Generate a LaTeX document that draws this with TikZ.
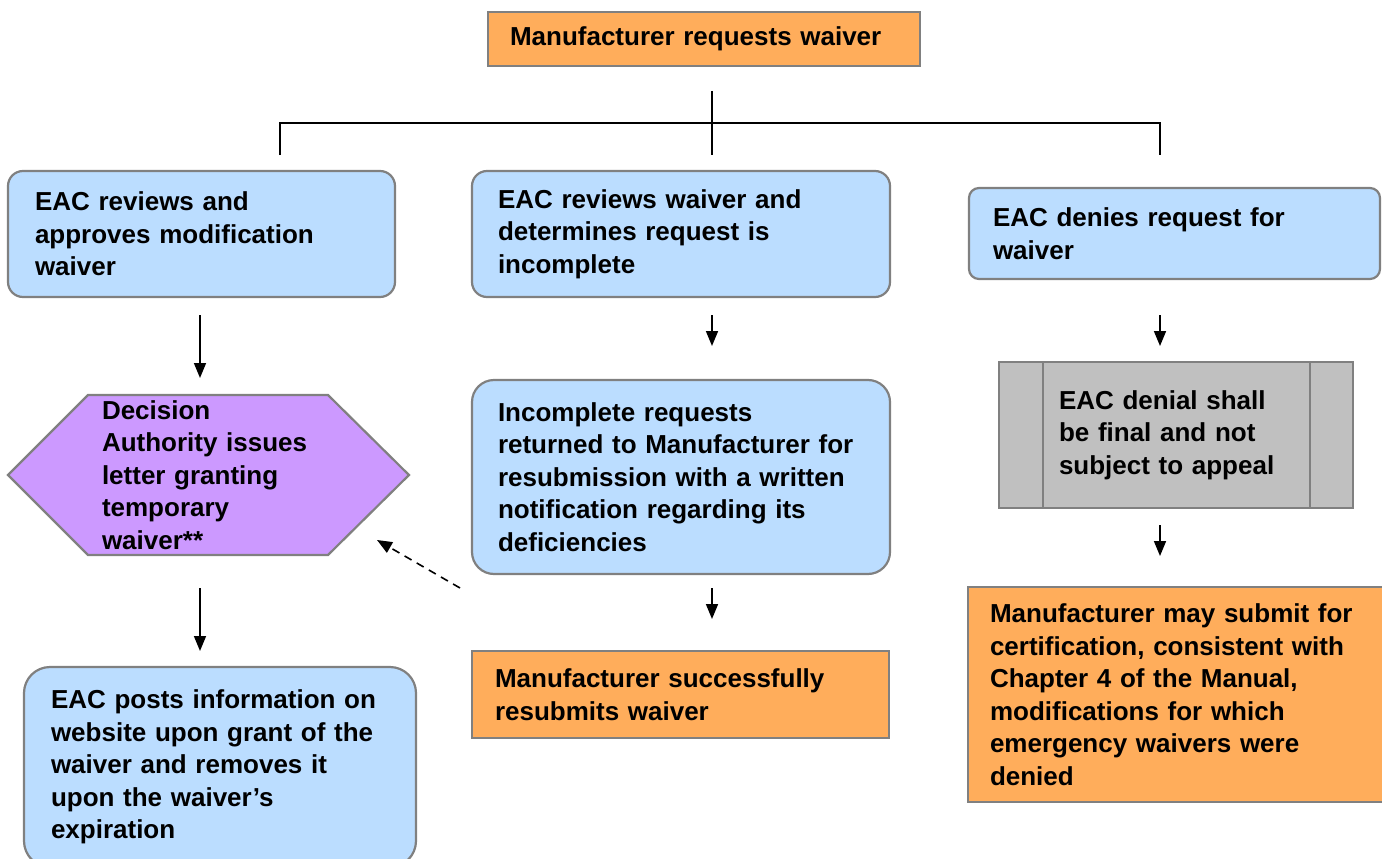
\documentclass[tikz,border=0pt]{standalone}
\usepackage{fontspec}
\setmainfont{Liberation Sans}
\usetikzlibrary{arrows.meta,backgrounds}
\definecolor{orangebox}{HTML}{FFAD5B}
\definecolor{bluebox}{HTML}{BBDDFF}
\definecolor{purplebox}{HTML}{CC99FF}
\definecolor{graybox}{HTML}{C0C0C0}
\definecolor{bordercol}{HTML}{808080}
\tikzset{
  every node/.style={font=\bfseries\fontsize{26}{32.5}\selectfont, text=black},
  box/.style={draw=bordercol, line width=2.2pt, align=left, anchor=north west,
    inner ysep=0pt, outer sep=0pt},
  bluestyle/.style={box, fill=bluebox},
  orangestyle/.style={box, fill=orangebox},
  conn/.style={line width=1.6pt, draw=black},
  arr/.style={conn, -{Triangle[length=15pt,width=12pt]}},
  dasharr/.style={arr, dash pattern=on 8pt off 6pt}
}
\begin{document}
\begin{tikzpicture}[x=1pt,y=-1pt]
\useasboundingbox (0,0) rectangle (1382,859);
\clip (0,0) rectangle (1382,859);

% top
\node[orangestyle, minimum width=432, minimum height=54, text width=388, inner xsep=22]
  (T) at (488,12) {Manufacturer requests waiver};

% row 1
\node[bluestyle, rounded corners=15pt, minimum width=387, minimum height=126, text width=333, inner xsep=27]
  (A) at (8,171) {EAC reviews and\\approves modification\\waiver};
\node[bluestyle, rounded corners=15pt, minimum width=418, minimum height=126, text width=366, inner xsep=26]
  (B) at (472,171) {EAC reviews waiver and\\determines request is\\incomplete};
\node[bluestyle, rounded corners=10pt, minimum width=411, minimum height=91, text width=363, inner xsep=24]
  (C) at (969,188) {EAC denies request for\\waiver};

% row 2
\node[box, draw=none, minimum width=401, minimum height=160, text width=213, inner xsep=94]
  (H) at (8,395) {Decision\\Authority issues\\letter granting\\temporary\\waiver**};
\begin{scope}[on background layer]
\filldraw[fill=purplebox, draw=bordercol, line width=2.2pt]
  (H.west) -- ([shift={(80,0)}]H.north west) -- ([shift={(-81,0)}]H.north east)
  -- (H.east) -- ([shift={(-81,0)}]H.south east) -- ([shift={(80,0)}]H.south west) -- cycle;
\end{scope}

\node[bluestyle, rounded corners=22pt, minimum width=418, minimum height=194, text width=366, inner xsep=26]
  (D) at (472,380) {Incomplete requests\\returned to Manufacturer for\\resubmission with a written\\notification regarding its\\deficiencies};

\node[box, fill=graybox, minimum width=354, minimum height=146, text width=234, inner xsep=60]
  (G) at (999,362) {EAC denial shall\\be final and not\\subject to appeal};
\draw[draw=bordercol, line width=2.2pt] ([shift={(44,0)}]G.north west) -- ([shift={(44,0)}]G.south west);
\draw[draw=bordercol, line width=2.2pt] ([shift={(-43,0)}]G.north east) -- ([shift={(-43,0)}]G.south east);

% row 3
\node[bluestyle, rounded corners=26pt, minimum width=392, minimum height=200, text width=338, inner xsep=27]
  (E) at (24,667) {EAC posts information on\\website upon grant of the\\waiver and removes it\\upon the waiver’s\\expiration};
\node[orangestyle, minimum width=417, minimum height=87, text width=371, inner xsep=23]
  (F) at (472,651) {Manufacturer successfully\\resubmits waiver};
\node[orangestyle, minimum width=420, minimum height=215, text width=376, inner xsep=22]
  (M) at (968,587) {Manufacturer may submit for\\certification, consistent with\\Chapter 4 of the Manual,\\modifications for which\\emergency waivers were\\denied};

% tree connector
\coordinate (t0) at (712,91);
\coordinate (t1) at (712,155);
\coordinate (l0) at (280,155);
\coordinate (l1) at (280,123);
\coordinate (r1) at (1160,123);
\coordinate (r0) at (1160,155);
\draw[conn] (t0) -- (t1);
\draw[conn] (l0) -- (l1) -- (r1) -- (r0);

% arrows
\coordinate (a1s) at (200,315); \coordinate (a1e) at (200,378);
\coordinate (a2s) at (712,315); \coordinate (a2e) at (712,346);
\coordinate (a3s) at (1160,315); \coordinate (a3e) at (1160,346);
\coordinate (a4s) at (200,588); \coordinate (a4e) at (200,651);
\coordinate (a5s) at (712,588); \coordinate (a5e) at (712,619);
\coordinate (a6s) at (1160,525); \coordinate (a6e) at (1160,556);
\coordinate (ds) at (460,588); \coordinate (de) at (377,540);
\draw[arr] (a1s) -- (a1e);
\draw[arr] (a2s) -- (a2e);
\draw[arr] (a3s) -- (a3e);
\draw[arr] (a4s) -- (a4e);
\draw[arr] (a5s) -- (a5e);
\draw[arr] (a6s) -- (a6e);
\draw[dasharr] (ds) -- (de);
\end{tikzpicture}
\end{document}
